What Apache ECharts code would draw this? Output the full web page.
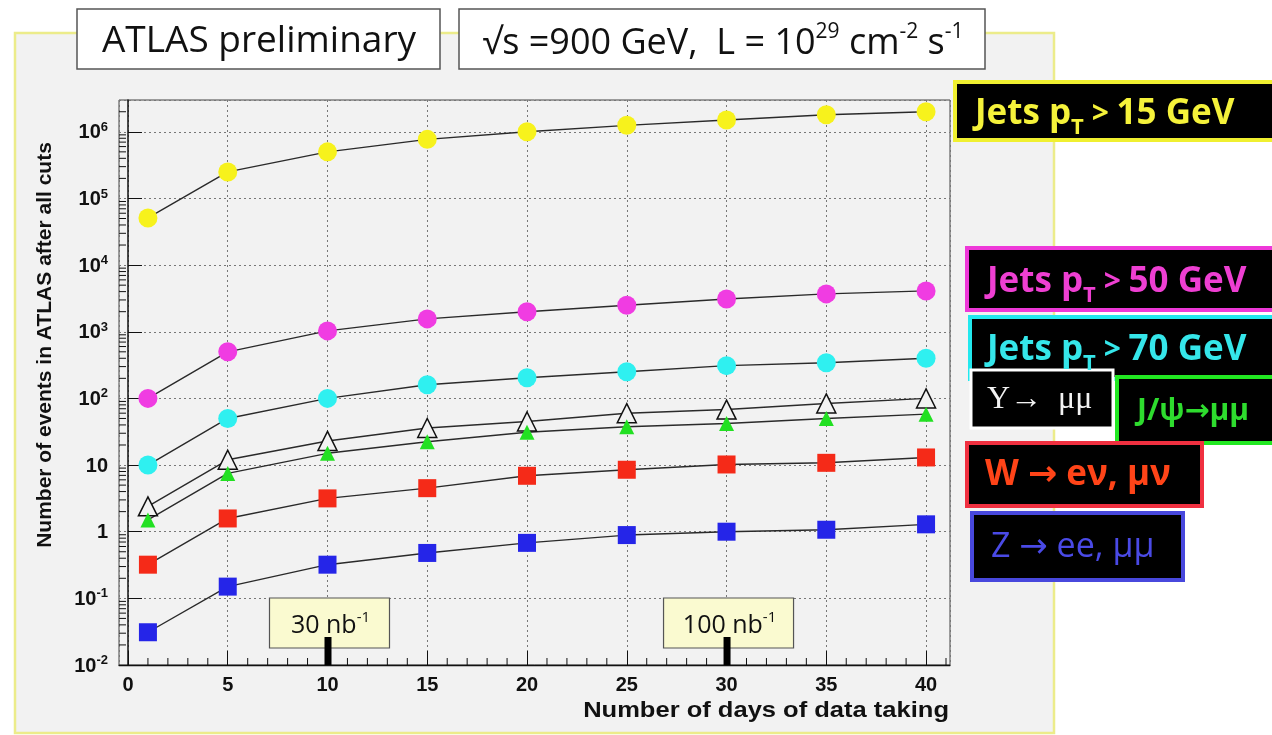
<!DOCTYPE html>
<html>
<head>
<meta charset="utf-8">
<script src="https://cdn.jsdelivr.net/npm/echarts@6/dist/echarts.min.js"></script>
<style>
  html, body { margin: 0; padding: 0; background: #ffffff; }
  #chart { width: 1272px; height: 735px; }
</style>
</head>
<body>
<div id="chart"></div>
<script>
// Expected event counts after all cuts vs. days of data taking
const days = [1, 5, 10, 15, 20, 25, 30, 35, 40];
const jets15 = [5.1e4, 2.5e5, 5.0e5, 7.7e5, 1.0e6, 1.25e6, 1.5e6, 1.8e6, 2.0e6];
const jets50 = [100, 500, 1030, 1560, 2000, 2500, 3100, 3700, 4100];
const jets70 = [10, 50, 100, 160, 204, 251, 310, 343, 400];
const upsilon = [2.4, 12, 23, 36, 45, 60, 68, 84, 100];
const jpsi = [1.5, 7.5, 15, 22.4, 31, 37.6, 42, 50, 58];
const wlnu = [0.32, 1.58, 3.16, 4.5, 6.9, 8.5, 10.2, 10.8, 13];
const zll = [0.031, 0.15, 0.32, 0.48, 0.68, 0.89, 1.0, 1.07, 1.29];

// Integrated luminosity markers on the time axis
const lumiDays = [10, 30];
const lumiValues = ['30', '100'];

// Axis ranges
const X_MIN = -0.45, X_MAX = 41.2;
const Y_MIN = 0.01, Y_MAX = 3e6;
const yDecades = [-2, -1, 0, 1, 2, 3, 4, 5, 6];
const yMinorFactors = [2, 3, 4, 5, 6, 7, 8, 9];

const sansBold = '"Liberation Sans", Arial, sans-serif';
const handFont = '"Open Sans", "DejaVu Sans", sans-serif';

const pairs = (ys) => days.map((d, i) => [d, ys[i]]);

// log-axis minor tick positions (2..9 x 10^n)
const yMinorTicks = [];
yDecades.forEach(n => yMinorFactors.forEach(k => {
  const v = k * Math.pow(10, n);
  if (v < Y_MAX) yMinorTicks.push([X_MIN, v]);
}));
// x-axis minor ticks at every day
const xMinorTicks = [];
for (let d = 1; d <= 41; d++) if (d % 5 !== 0) xMinorTicks.push([d, Y_MIN]);

const lineStyle = { color: '#2a2a2a', width: 1.4 };

function dataSeries(name, ys, symbol, size, color, extra) {
  return Object.assign({
    name: name,
    type: 'line',
    data: pairs(ys),
    symbol: symbol,
    symbolSize: size,
    showAllSymbol: true,
    lineStyle: lineStyle,
    itemStyle: { color: color },
    emphasis: { disabled: true },
    animation: false,
    z: 3
  }, extra || {});
}

const seriesList = [
  dataSeries('Jets pT > 15 GeV', jets15, 'circle', 19, '#f7f21c'),
  dataSeries('Jets pT > 50 GeV', jets50, 'circle', 19, '#f03ce2'),
  dataSeries('Jets pT > 70 GeV', jets70, 'circle', 19, '#2ff0f0'),
  dataSeries('Υ → μμ', upsilon, 'triangle', 19, '#f2f2f2',
    { itemStyle: { color: '#f2f2f2', borderColor: '#111', borderWidth: 1.5 } }),
  dataSeries('J/ψ → μμ', jpsi, 'triangle', 15, '#22e022'),
  dataSeries('W → eν, μν', wlnu, 'rect', 18, '#f52a18'),
  dataSeries('Z → ee, μμ', zll, 'rect', 18, '#2525e8'),
  {
    name: 'yMinor',
    type: 'custom',
    silent: true,
    animation: false,
    clip: false,
    data: yMinorTicks,
    z: 4,
    renderItem: (params, api) => {
      const p = api.coord([api.value(0), api.value(1)]);
      return { type: 'line', shape: { x1: p[0], y1: p[1], x2: p[0] + 7, y2: p[1] },
               style: { stroke: '#111', lineWidth: 1 } };
    }
  },
  {
    name: 'xMinor',
    type: 'custom',
    silent: true,
    animation: false,
    clip: false,
    data: xMinorTicks,
    z: 4,
    renderItem: (params, api) => {
      const p = api.coord([api.value(0), api.value(1)]);
      return { type: 'line', shape: { x1: p[0], y1: p[1], x2: p[0], y2: p[1] - 7 },
               style: { stroke: '#111', lineWidth: 1 } };
    }
  },
  {
    name: 'lumi',
    type: 'custom',
    silent: true,
    animation: false,
    clip: false,
    data: lumiDays.map((d, i) => [d, Y_MIN, i]),
    z: 6,
    renderItem: (params, api) => {
      const p = api.coord([api.value(0), api.value(1)]);
      const label = lumiValues[api.value(2)];
      const w = label.length > 2 ? 130 : 120, h = 50;
      return {
        type: 'group',
        children: [
          { type: 'rect', shape: { x: p[0] - w / 2 + 2, y: p[1] - 67, width: w, height: h },
            style: { fill: '#fafad0', stroke: '#555', lineWidth: 1.2 } },
          { type: 'text',
            style: {
              x: p[0] + 3, y: p[1] - 41, align: 'center', verticalAlign: 'middle',
              text: '{a|' + label + ' nb}{s|-1}',
              rich: {
                a: { fontFamily: handFont, fontSize: 25, fill: '#111', lineHeight: 28, verticalAlign: 'bottom' },
                s: { fontFamily: handFont, fontSize: 15, fill: '#111', lineHeight: 15, verticalAlign: 'top' }
              }
            } },
          { type: 'rect', shape: { x: p[0] - 3, y: p[1] - 28, width: 7, height: 28 },
            style: { fill: '#000' } }
        ]
      };
    }
  }
];

// Legend-style labelled boxes on the right
function labelBox(x, y, w, h, border, text, rich, textX, lw, dy) {
  return [
    { type: 'rect', z: 100, shape: { x: x, y: y, width: w, height: h },
      style: { fill: '#000', stroke: border, lineWidth: lw || 4 } },
    { type: 'text', z: 101, x: textX, y: y + h / 2 + (dy || 1),
      style: { text: text, rich: rich, verticalAlign: 'middle', align: 'left' } }
  ];
}
function jetsRich(color) {
  return {
    a: { fontFamily: handFont, fontWeight: 'bold', fontSize: 35, fill: color, lineHeight: 50, verticalAlign: 'middle' },
    g: { fontFamily: handFont, fontWeight: 'bold', fontSize: 30, fill: color, lineHeight: 50, verticalAlign: 'middle' },
    t: { fontFamily: handFont, fontWeight: 'bold', fontSize: 22, fill: color, lineHeight: 24, verticalAlign: 'bottom' }
  };
}
function jetsText(cut) {
  return '{a|Jets p}{t|T}{g| > }{a|' + cut + ' GeV}';
}
function plainRich(color, family, size, weight) {
  return { a: { fontFamily: family, fontWeight: weight || 'bold', fontSize: size, fill: color } };
}

const graphics = [
  // canvas panel with yellow frame
  { type: 'rect', z: -10, shape: { x: 15, y: 33, width: 1039, height: 700 },
    style: { fill: '#f2f2f2', stroke: '#ecec8a', lineWidth: 2.5 } },
  // header boxes
  { type: 'rect', z: 100, shape: { x: 77, y: 9, width: 363, height: 60 },
    style: { fill: '#ffffff', stroke: '#555', lineWidth: 1.5 } },
  { type: 'text', z: 101, x: 259, y: 41,
    style: { text: 'ATLAS preliminary', font: '37px ' + handFont, fill: '#111', align: 'center', verticalAlign: 'middle' } },
  { type: 'rect', z: 100, shape: { x: 459, y: 9, width: 526, height: 60 },
    style: { fill: '#ffffff', stroke: '#555', lineWidth: 1.5 } },
  { type: 'text', z: 101, x: 723, y: 42,
    style: {
      text: '{a|√s =900 GeV,  L = 10}{s|29}{a| cm}{s|-2}{a| s}{s|-1}',
      align: 'center', verticalAlign: 'middle',
      rich: {
        a: { fontFamily: handFont, fontSize: 36, fill: '#111', lineHeight: 40, verticalAlign: 'bottom' },
        s: { fontFamily: handFont, fontSize: 21, fill: '#111', lineHeight: 22, verticalAlign: 'top' }
      }
    } },
  // axis titles
  { type: 'text', z: 20, x: 45, y: 345, rotation: Math.PI / 2,
    style: { text: 'Number of events in ATLAS after all cuts', font: 'bold 21px ' + sansBold,
             fill: '#111', align: 'center', verticalAlign: 'middle' } },
  { type: 'text', z: 20, x: 949, y: 711, scaleX: 1.16,
    style: { text: 'Number of days of data taking', font: 'bold 22px ' + sansBold,
             fill: '#111', align: 'right', verticalAlign: 'middle' } }
]
  .concat(labelBox(955, 82, 330, 58, '#f0f030', jetsText('15'), jetsRich('#f5f23a'), 975, 4, 3))
  .concat(labelBox(967, 248, 330, 62, '#ee38d8', jetsText('50'), jetsRich('#ee3fd2'), 987, 4, 3))
  .concat(labelBox(970, 317, 330, 62, '#22e8ee', jetsText('70'), jetsRich('#35e6ea'), 987, 4, 2))
  .concat(labelBox(971, 370, 142, 58, '#ffffff', '{a|Υ→  μμ}', plainRich('#f2f2f2', '"Liberation Serif", serif', 32, 'normal'), 987, 3))
  .concat(labelBox(1117, 377, 180, 66, '#22e822', '{a|J/ψ→μμ}', plainRich('#2edc2e', handFont, 30), 1137))
  .concat(labelBox(967, 443, 235, 63, '#f03040', '{a|W → eν, μν}', plainRich('#ff4418', handFont, 35), 985))
  .concat(labelBox(972, 513, 211, 67, '#4848dd', '{a|Z → ee, μμ}', plainRich('#4a4ae6', handFont, 34, 'normal'), 991));

function yLabel(v) {
  const n = Math.round(Math.log10(v));
  if (n === 0) return '{b|1}';
  if (n === 1) return '{b|10}';
  return '{b|10}{s|' + n + '}';
}

const option = {
  backgroundColor: '#ffffff',
  animation: false,
  grid: {
    left: 119, right: 322, top: 100, bottom: 70,
    show: true, backgroundColor: 'transparent', borderColor: '#444', borderWidth: 1
  },
  xAxis: {
    type: 'value',
    min: X_MIN, max: X_MAX,
    minInterval: 5, maxInterval: 5,
    axisLine: { show: true, onZero: false, lineStyle: { color: '#111', width: 1.3 } },
    axisTick: { show: true, inside: true, length: 14, lineStyle: { color: '#111', width: 1 } },
    splitLine: { show: true, lineStyle: { color: '#777', type: [2, 3], width: 1 } },
    axisLabel: {
      showMinLabel: false, showMaxLabel: false, margin: 10,
      fontFamily: sansBold, fontWeight: 'bold', fontSize: 20, color: '#111',
      formatter: (v) => {
        const r = Math.round(v);
        return (Math.abs(v - r) < 1e-6 && r % 5 === 0) ? String(r) : '';
      }
    }
  },
  yAxis: {
    type: 'log',
    logBase: 10,
    min: Y_MIN, max: Y_MAX,
    axisLine: { show: true, lineStyle: { color: '#111', width: 1.5 } },
    axisTick: { show: true, inside: true, length: 14, lineStyle: { color: '#111', width: 1 } },
    splitLine: { show: true, lineStyle: { color: '#777', type: [2, 3], width: 1 } },
    axisLabel: {
      showMaxLabel: false, margin: 11,
      formatter: yLabel,
      rich: {
        b: { fontFamily: sansBold, fontWeight: 'bold', fontSize: 20, color: '#111', lineHeight: 22, verticalAlign: 'bottom' },
        s: { fontFamily: sansBold, fontWeight: 'bold', fontSize: 13, color: '#111', lineHeight: 12, verticalAlign: 'top' }
      }
    }
  },
  graphic: { elements: graphics },
  series: seriesList
};

const chart = echarts.init(document.getElementById('chart'), null, { renderer: 'canvas' });
chart.setOption(option);
</script>
</body>
</html>
